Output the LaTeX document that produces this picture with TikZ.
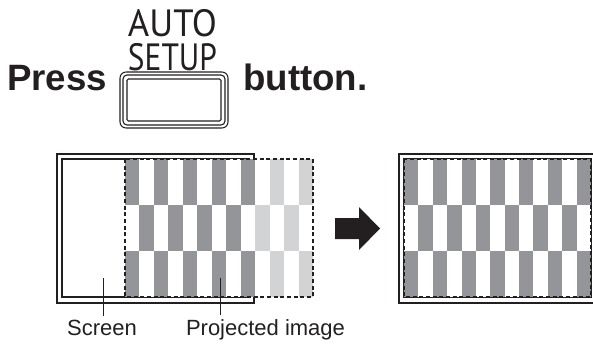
\documentclass[tikz,border=0pt]{standalone}
\usepackage{fontspec}
\usepackage{graphicx}
\setmainfont{Liberation Sans}
\newfontfamily\keyfont{PT Sans}
\usetikzlibrary{positioning}

\definecolor{ink}{RGB}{35,31,32}
\definecolor{stripedark}{RGB}{147,149,152}
\definecolor{stripelight}{RGB}{209,211,212}

\tikzset{
  screenline/.style={draw=ink, line width=1.1pt},
  innerline/.style={draw=ink, line width=0.8pt},
  projborder/.style={draw=ink, line width=0.8pt, dash pattern=on 3pt off 2pt},
  keyline/.style={draw=ink, line width=0.8pt},
  bigtext/.style={inner sep=0pt, text=ink, font=\fontsize{27.5}{30}\selectfont\bfseries},
  keytext/.style={inner sep=0pt, text=ink, align=center, font=\keyfont\fontsize{28.5}{25}\selectfont},
  tag/.style={inner sep=0pt, outer sep=3pt, text=ink, font=\fontsize{16.5}{18}\selectfont},
  leader/.style={draw=ink, line width=0.7pt}
}

% stripes: x0, stripe width, stripes drawn dark (rest light)
\newcommand{\testchart}[3]{
  \foreach \r in {0,1,2}
    \foreach \i in {0,...,12}{
      \pgfmathtruncatemacro\odd{mod(\i+\r,2)}
      \ifnum\odd=0
        \ifnum\i<#3
          \fill[stripedark] ({#1+\i*#2},{159+\r*46}) rectangle ++(#2,46);
        \else
          \fill[stripelight] ({#1+\i*#2},{159+\r*46}) rectangle ++(#2,46);
        \fi
      \fi
    }
}

\begin{document}
\begin{tikzpicture}[x=0.75pt, y=-0.75pt]
\useasboundingbox (0,0) rectangle (593,343);

% heading
\node (press) [bigtext, anchor=base west] at (7,90) {Press};
\node (buttontxt) [bigtext, anchor=base west] at (243,90) {button.};
\node (keylbl) [keytext, anchor=south] at (172.5,71)
  {\resizebox{66.75pt}{\height}{AUTO}\\\resizebox{66.75pt}{\height}{SETUP}};

% key
\draw[keyline, rounded corners=4.5pt] (120,72) rectangle (228,128);
\draw[keyline, rounded corners=3pt] (123,75) rectangle (225,125);
\draw[keyline, rounded corners=1pt] (127,79) rectangle (221,121);

% left: screen with shifted image
\draw[screenline] (57,154) rectangle (254,303);
\draw[innerline] (62,159) rectangle (249,297);
\fill[white] (125,159) rectangle (313,297);
\testchart{125}{14.46}{9}
\draw[projborder] (125,159) rectangle (313,297);

% arrow
\fill[ink] (335,218) -- (359,218) -- (359,207) -- (380,228.5)
  -- (359,250) -- (359,239) -- (335,239) -- cycle;

% right: corrected image
\draw[screenline] (399,154) rectangle (596,303);
\draw[innerline] (404,159) rectangle (591,297);
\fill[white] (404,159) rectangle (591,297);
\testchart{404}{14.385}{13}
\draw[projborder] (404,159) rectangle (591,297);

% labels
\coordinate (scrtip) at (103,278);
\coordinate (projtip) at (220,278);
\node (scrlbl) [tag, anchor=base] at (102,335) {Screen};
\node (projlbl) [tag, anchor=base west] at (182,335) {Projected image};
\draw[leader] (scrtip) -- (scrtip |- scrlbl.north);
\draw[leader] (projtip) -- (projtip |- projlbl.north);

\end{tikzpicture}
\end{document}
